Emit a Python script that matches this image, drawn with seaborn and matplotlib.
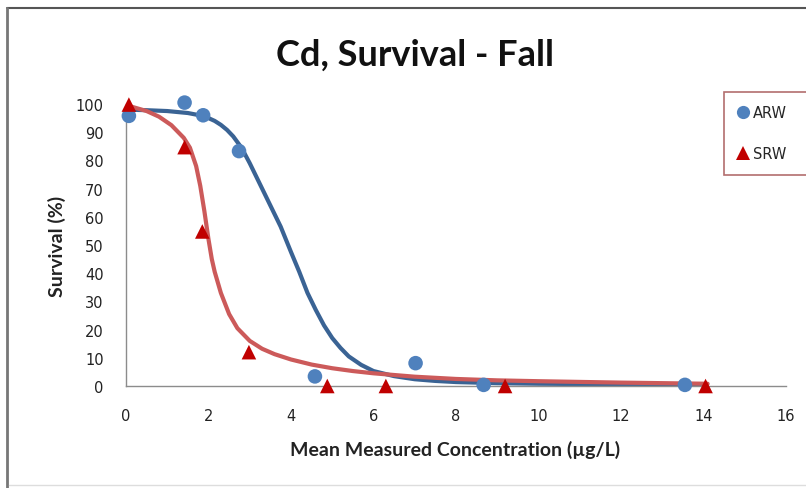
import matplotlib
matplotlib.use("Agg")
import matplotlib.pyplot as plt
import numpy as np
import pandas as pd
import seaborn as sns
from matplotlib.lines import Line2D

# ---- data ----
arw_conc = [0.07, 1.42, 1.87, 2.74, 4.58, 7.02, 8.67, 13.55]
arw_surv = [95.8, 100.5, 96.0, 83.3, 3.4, 8.1, 0.4, 0.4]
srw_conc = [0.07, 1.42, 1.85, 2.98, 4.88, 6.3, 9.19, 14.05]
srw_surv = [99.8, 84.7, 54.8, 12.0, 0.0, 0.0, 0.0, 0.0]

# fitted curves (traced points)
arw_fit_x = [0.03, 0.5, 1.0, 1.5, 1.75, 2.0, 2.15, 2.3, 2.45, 2.6, 2.8, 3.0, 3.25, 3.5,
             3.75, 4.0, 4.2, 4.4, 4.6, 4.8, 5.0, 5.2, 5.4, 5.7, 6.0, 6.5, 7.0, 7.5,
             8.0, 9.0, 10.0, 12.0, 14.0]
arw_fit_y = [98.0, 97.8, 97.5, 96.8, 96.1, 95.0, 94.0, 92.6, 90.8, 88.5, 84.5, 79.0, 71.5, 64.0,
             56.5, 47.5, 40.5, 33.0, 27.0, 21.5, 17.0, 13.5, 10.5, 7.5, 5.3, 3.5, 2.4, 1.8,
             1.4, 1.0, 0.8, 0.6, 0.5]
srw_fit_x = [0.03, 0.5, 0.8, 1.1, 1.4, 1.55, 1.7, 1.8, 1.9, 2.0, 2.08, 2.15, 2.3, 2.5,
             2.7, 3.0, 3.3, 3.6, 4.0, 4.5, 5.0, 5.5, 6.0, 7.0, 8.0, 9.0, 10.0, 12.0, 14.1]
srw_fit_y = [99.5, 97.5, 95.5, 92.5, 88.0, 84.5, 78.0, 71.0, 62.0, 52.0, 45.0, 40.5, 33.0, 25.5,
             20.5, 16.0, 13.2, 11.3, 9.4, 7.6, 6.3, 5.3, 4.5, 3.3, 2.5, 2.0, 1.7, 1.2, 0.8]

x_ticks = [0, 2, 4, 6, 8, 10, 12, 14, 16]
y_ticks = [0, 10, 20, 30, 40, 50, 60, 70, 80, 90, 100]

title = "Cd, Survival - Fall"
x_label = "Mean Measured Concentration (\u00b5g/L)"
y_label = "Survival (%)"

BLUE_PT = "#4f81bd"
RED_PT = "#c00000"
BLUE_LN = "#3a6394"
RED_LN = "#cc5a5a"
AX_GRAY = "#8c8c8c"

sns.set_theme(style="white")
plt.rcParams["font.family"] = ["DejaVu Sans"]
plt.rcParams["lines.solid_joinstyle"] = "round"
plt.rcParams["lines.solid_capstyle"] = "round"

pts = pd.concat([
    pd.DataFrame({"conc": arw_conc, "surv": arw_surv, "grp": "ARW"}),
    pd.DataFrame({"conc": srw_conc, "surv": srw_surv, "grp": "SRW"}),
])
fits = pd.concat([
    pd.DataFrame({"conc": arw_fit_x, "surv": arw_fit_y, "grp": "ARW"}),
    pd.DataFrame({"conc": srw_fit_x, "surv": srw_fit_y, "grp": "SRW"}),
])

fig = plt.figure(figsize=(8.06, 4.89), dpi=100)
ax = fig.add_axes([126 / 806, 1 - 387 / 489, 660 / 806, (387 - 105) / 489])

sns.lineplot(data=fits, x="conc", y="surv", hue="grp", sort=False, estimator=None,
             palette={"ARW": BLUE_LN, "SRW": RED_LN}, linewidth=3.0, legend=False,
             ax=ax, zorder=2)
sns.scatterplot(data=pts, x="conc", y="surv", hue="grp", style="grp",
                markers={"ARW": "o", "SRW": "^"},
                palette={"ARW": BLUE_PT, "SRW": RED_PT}, s=110, linewidth=0,
                legend=False, ax=ax, zorder=3, clip_on=False)
for coll in ax.collections:
    coll.set_clip_on(False)

ax.set_xlim(0, 16)
ax.set_ylim(0, 100)
ax.set_xticks(x_ticks)
ax.set_yticks(y_ticks)
ax.set_xticklabels([str(t) for t in x_ticks])
ax.set_yticklabels([str(t) for t in y_ticks])
ax.set_xlabel("")
ax.set_ylabel("")

for side in ["top", "right"]:
    ax.spines[side].set_visible(False)
for side in ["left", "bottom"]:
    ax.spines[side].set_color(AX_GRAY)
    ax.spines[side].set_linewidth(1.0)
ax.tick_params(axis="both", which="major", direction="out", length=5, width=1,
               color=AX_GRAY, labelsize=10.5, labelcolor="#222222")
ax.tick_params(axis="x", pad=11)
ax.tick_params(axis="y", pad=11)
ax.grid(False)

fig.text(415 / 806, 1 - 55 / 489, title, ha="center", va="center",
         fontsize=26, fontweight="bold", family=["Lato", "DejaVu Sans"], color="#111111")
fig.text(455 / 806, 1 - 450 / 489, x_label, ha="center", va="center",
         fontsize=14, fontweight="bold", family=["Lato", "DejaVu Sans"], color="#222222")
fig.text(57 / 806, 1 - 246 / 489, y_label, ha="center", va="center", rotation=90,
         fontsize=14, fontweight="bold", family=["Lato", "DejaVu Sans"], color="#222222")

handles = [
    Line2D([], [], marker="o", linestyle="none", markersize=9.5, color=BLUE_PT, markeredgewidth=0),
    Line2D([], [], marker="^", linestyle="none", markersize=9.5, color=RED_PT, markeredgewidth=0),
]
leg = fig.legend(handles, ["ARW", "SRW"], loc="upper left",
                 bbox_to_anchor=(724 / 806, 1 - 93 / 489 - 0.01, 90 / 806, 0.01), mode="expand",
                 frameon=True, fancybox=False, fontsize=10.5, handlelength=0.8,
                 handletextpad=0.3, labelspacing=1.8, borderpad=0.9, borderaxespad=0)
leg.get_frame().set_edgecolor("#a04a4a")
leg.get_frame().set_linewidth(1.2)
leg.get_frame().set_facecolor("white")

# outer chart frame
fig.add_artist(Line2D([7 / 806, 1], [1 - 9 / 489, 1 - 9 / 489], color="#555555", lw=1.5))
fig.add_artist(Line2D([7 / 806, 7 / 806], [0, 1 - 9 / 489], color="#777777", lw=2.0))
fig.add_artist(Line2D([9 / 806, 1], [1 - 486 / 489, 1 - 486 / 489], color="#dddddd", lw=1.0))

fig.savefig("out.png", dpi=100)
